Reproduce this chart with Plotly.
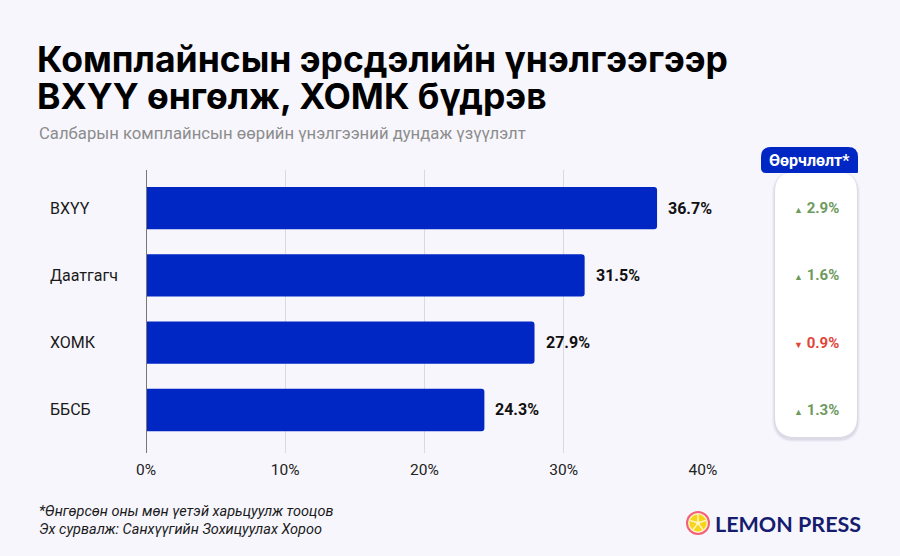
import math
import plotly.graph_objects as go

categories = ["ВХҮҮ", "Даатгагч", "ХОМК", "ББСБ"]
values = [36.7, 31.5, 27.9, 24.3]
changes = [2.9, 1.6, -0.9, 1.3]
x_ticks = [0, 10, 20, 30, 40]
x_tick_labels = ["0%", "10%", "20%", "30%", "40%"]

W, H = 900, 556
L, R, T, B = 146, 703, 170, 453
BG = "#f7f6fd"
BLUE = "#0027c4"
FONT = "Roboto"
TFONT = "Inter"

def px(xp):
    return (xp - L) / (R - L)

def py(yp):
    return (B - yp) / (B - T)

fig = go.Figure()
fig.add_trace(go.Bar(
    y=categories, x=values, orientation="h",
    marker=dict(color=BLUE, line=dict(width=0), cornerradius=3),
    width=0.63,
    hoverinfo="skip",
))

fig.update_layout(
    width=W, height=H, autosize=False,
    paper_bgcolor=BG, plot_bgcolor=BG,
    margin=dict(l=L, r=W - R, t=T, b=H - B, pad=0),
    showlegend=False,
    font=dict(family=FONT),
    xaxis=dict(
        range=[0, 40], tickvals=x_ticks, ticktext=x_tick_labels,
        showgrid=True, gridcolor="#d9d9df", gridwidth=1,
        zeroline=False, showline=False, ticks="",
        ticklabelstandoff=5,
        tickfont=dict(family=FONT, size=15.5, color="#222222"),
        fixedrange=True,
    ),
    yaxis=dict(
        categoryorder="array", categoryarray=categories,
        range=[3.64, -0.567],
        showticklabels=False, showgrid=False, zeroline=False, ticks="",
        fixedrange=True,
    ),
)

shapes = []
shapes.append(dict(type="line", xref="x", yref="paper", x0=0, x1=0, y0=0, y1=1,
                   line=dict(color="#777777", width=2), layer="above"))

def rrect(x0, y0, x1, y1, r_tl, r_tr, r_br, r_bl):
    def P(x, y):
        return f"{px(x):.5f},{py(y):.5f}"
    d = f"M {P(x0 + r_tl, y0)} L {P(x1 - r_tr, y0)} Q {P(x1, y0)} {P(x1, y0 + r_tr)} "
    d += f"L {P(x1, y1 - r_br)} Q {P(x1, y1)} {P(x1 - r_br, y1)} "
    d += f"L {P(x0 + r_bl, y1)} Q {P(x0, y1)} {P(x0, y1 - r_bl)} "
    d += f"L {P(x0, y0 + r_tl)} Q {P(x0, y0)} {P(x0 + r_tl, y0)} Z"
    return d

for i, op in enumerate([0.04, 0.05, 0.06]):
    s = 3 - i
    shapes.append(dict(type="path", xref="paper", yref="paper",
                       path=rrect(775 - s, 172 - s + 2, 857 + s, 437 + s + 2, 20 + s, 20 + s, 20 + s, 20 + s),
                       fillcolor=f"rgba(60,60,90,{op})", line=dict(width=0), layer="above"))
shapes.append(dict(type="path", xref="paper", yref="paper",
                   path=rrect(775, 172, 857, 437, 20, 20, 20, 20),
                   fillcolor="#ffffff", line=dict(width=0), layer="above"))
shapes.append(dict(type="path", xref="paper", yref="paper",
                   path=rrect(761, 147, 858, 173, 10, 10, 1, 5),
                   fillcolor=BLUE, line=dict(width=0), layer="above"))

cx, cy = 698, 523
shapes.append(dict(type="circle", xref="paper", yref="paper",
                   x0=px(cx - 12), x1=px(cx + 12), y0=py(cy + 12), y1=py(cy - 12),
                   fillcolor="#f2607a", line=dict(width=0), layer="above"))
shapes.append(dict(type="circle", xref="paper", yref="paper",
                   x0=px(cx - 10), x1=px(cx + 10), y0=py(cy + 10), y1=py(cy - 10),
                   fillcolor="#fff4c2", line=dict(width=0), layer="above"))
shapes.append(dict(type="circle", xref="paper", yref="paper",
                   x0=px(cx - 8.5), x1=px(cx + 8.5), y0=py(cy + 8.5), y1=py(cy - 8.5),
                   fillcolor="#f7d417", line=dict(width=0), layer="above"))
for k in range(5):
    a = math.radians(90 + k * 72)
    shapes.append(dict(type="line", xref="paper", yref="paper",
                       x0=px(cx), y0=py(cy), x1=px(cx + 8.5 * math.cos(a)), y1=py(cy - 8.5 * math.sin(a)),
                       line=dict(color="#fff6c8", width=1.5), layer="above"))
shapes.append(dict(type="circle", xref="paper", yref="paper",
                   x0=px(cx - 2), x1=px(cx + 2), y0=py(cy + 2), y1=py(cy - 2),
                   fillcolor="#fff6c8", line=dict(width=0), layer="above"))

fig.update_layout(shapes=shapes)

ann = []
ann.append(dict(xref="paper", yref="paper", x=px(35), y=py(60), xanchor="left", yanchor="middle",
                text="<b>Комплайнсын эрсдэлийн үнэлгээгээр</b>",
                showarrow=False, font=dict(family=TFONT, size=35.5, color="#000000")))
ann.append(dict(xref="paper", yref="paper", x=px(35), y=py(97), xanchor="left", yanchor="middle",
                text="<b>ВХҮҮ өнгөлж, ХОМК бүдрэв</b>",
                showarrow=False, font=dict(family=TFONT, size=35.5, color="#000000")))
ann.append(dict(xref="paper", yref="paper", x=px(37), y=py(133), xanchor="left", yanchor="middle",
                text="Салбарын комплайнсын өөрийн үнэлгээний дундаж үзүүлэлт",
                showarrow=False, font=dict(family=FONT, size=16.7, color="#8c8c8c")))
for c in categories:
    ann.append(dict(xref="paper", yref="y", x=px(48), y=c, xanchor="left", yanchor="middle",
                    text=c, showarrow=False, font=dict(family=FONT, size=16, color="#1a1a1a")))
for c, v in zip(categories, values):
    ann.append(dict(xref="x", yref="y", x=v, y=c, xanchor="left", yanchor="middle", xshift=9,
                    text=f"<b>{v:.1f}%</b>", showarrow=False,
                    font=dict(family=FONT, size=16, color="#111111")))
ann.append(dict(xref="paper", yref="paper", x=px(809), y=py(160), xanchor="center", yanchor="middle",
                text="<b>Өөрчлөлт*</b>", showarrow=False,
                font=dict(family=FONT, size=16, color="#ffffff")))
for c, ch in zip(categories, changes):
    col = "#6e9a5e" if ch >= 0 else "#e2463a"
    tri = "▲" if ch >= 0 else "▼"
    ann.append(dict(xref="paper", yref="y", x=px(816), y=c, xanchor="center", yanchor="middle",
                    text=f"<span style='font-size:9px'>{tri}</span> <b>{abs(ch):.1f}%</b>",
                    showarrow=False, font=dict(family=FONT, size=15, color=col)))
ann.append(dict(xref="paper", yref="paper", x=px(37), y=py(511), xanchor="left", yanchor="middle",
                text="<i>*Өнгөрсөн оны мөн үетэй харьцуулж тооцов</i>",
                showarrow=False, font=dict(family=FONT, size=14.5, color="#1a1a1a")))
ann.append(dict(xref="paper", yref="paper", x=px(37), y=py(529), xanchor="left", yanchor="middle",
                text="<i>Эх сурвалж: Санхүүгийн Зохицуулах Хороо</i>",
                showarrow=False, font=dict(family=FONT, size=14.5, color="#1a1a1a")))
ann.append(dict(xref="paper", yref="paper", x=px(713), y=py(524), xanchor="left", yanchor="middle",
                text="<b>LEMON PRESS</b>", showarrow=False,
                font=dict(family="Lato", size=21.5, color="#161c6e")))
fig.update_layout(annotations=ann)

fig.write_html("out.html")
